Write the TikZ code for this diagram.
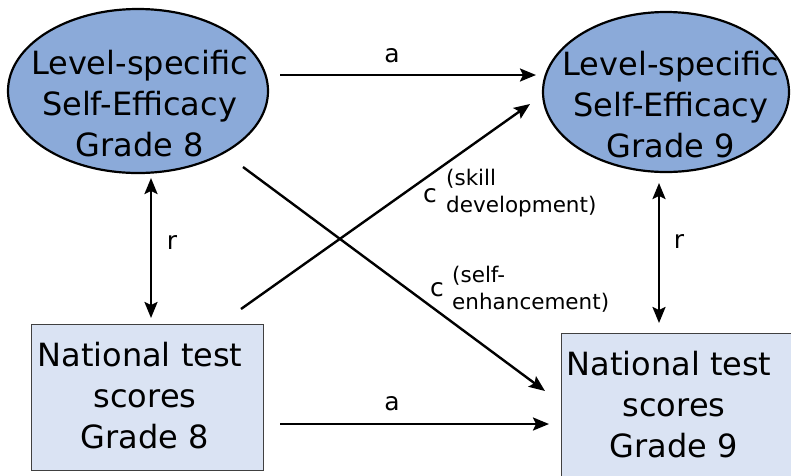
\documentclass[tikz,border=0pt]{standalone}
\usepackage{fontspec}
\setmainfont{DejaVu Sans}
\usetikzlibrary{arrows.meta,shapes.geometric}
\definecolor{ellfill}{HTML}{8BAAD9}
\definecolor{boxfill}{HTML}{DAE3F3}
\definecolor{boxline}{HTML}{404040}
\begin{document}
\begin{tikzpicture}[x=1pt,y=-1pt,
  ell/.style={ellipse, draw=black, line width=2.2pt, fill=ellfill, inner sep=0pt, outer sep=0pt},
  tbox/.style={rectangle, draw=boxline, line width=1pt, fill=boxfill, inner sep=0pt, outer sep=0pt},
  bigtxt/.style={align=center, inner sep=0pt, font=\fontsize{32}{41}\selectfont},
  lbl/.style={inner sep=0pt, anchor=base, font=\fontsize{25}{30}\selectfont},
  note/.style={inner sep=0pt, anchor=north west, align=left, font=\fontsize{21.5}{27}\selectfont},
  arr/.style={line width=2.4pt, -{Stealth[length=16pt,width=13pt,inset=3pt]}},
  darr/.style={line width=2.4pt, {Stealth[length=16pt,width=13pt,inset=3pt]}-{Stealth[length=16pt,width=13pt,inset=3pt]}}]
\useasboundingbox (0,0) rectangle (791,475);

% shapes
\node[ell, minimum width=260pt, minimum height=164pt] (se8) at (138,91) {};
\node[ell, minimum width=246pt, minimum height=160pt] (se9) at (666,92) {};
\node[tbox, minimum width=232pt, minimum height=146pt] (ts8) at (147,397) {};
\node[tbox, minimum width=234pt, minimum height=157pt] (ts9) at (678,411.5) {};

% texts
\node[bigtxt] (se8t) at (139.5,104) {Level-specific\\Self-Efficacy\\Grade 8};
\node[bigtxt] (se9t) at (671,105) {Level-specific\\Self-Efficacy\\Grade 9};
\node[bigtxt] (ts8t) at (145,396) {National test\kern10pt\\scores\\Grade 8};
\node[bigtxt] (ts9t) at (674,404.5) {National test\kern10pt\\scores\\Grade 9};

% connectors
\draw[arr] ([xshift=12pt,yshift=16pt]se8.east) -- ([xshift=-7pt,yshift=17pt]se9.west);
\draw[arr] ([xshift=17pt,yshift=-27pt]ts8.east) -- ([xshift=-12pt,yshift=-12.5pt]ts9.west);
\draw[darr] ([xshift=4pt,yshift=6pt]ts8.north) -- ([xshift=13pt,yshift=-5pt]se8.south);
\draw[darr] ([xshift=-7pt,yshift=-11pt]se9.south) -- ([xshift=-19pt,yshift=10pt]ts9.north);
\draw[arr] ([xshift=-22pt,yshift=15pt]ts8.north east) -- ([xshift=-136pt,yshift=-12pt]se9.center);
\draw[arr] ([xshift=105pt,yshift=-76pt]se8.center) -- ([xshift=-16pt,yshift=20.5pt]ts9.west);

% labels
\node[lbl] (la1) at (392,62) {a};
\node[lbl] (la2) at (392,410) {a};
\node[lbl] (lr1) at (172,249) {r};
\node[lbl] (lr2) at (679,248) {r};
\node[lbl] (lc1) at (430,202) {c};
\node[lbl] (lc2) at (437,296) {c};
\node[note] (n1) at (446,169.3) {(skill\\development)};
\node[note] (n2) at (452,266) {(self-\\enhancement)};
\end{tikzpicture}
\end{document}
